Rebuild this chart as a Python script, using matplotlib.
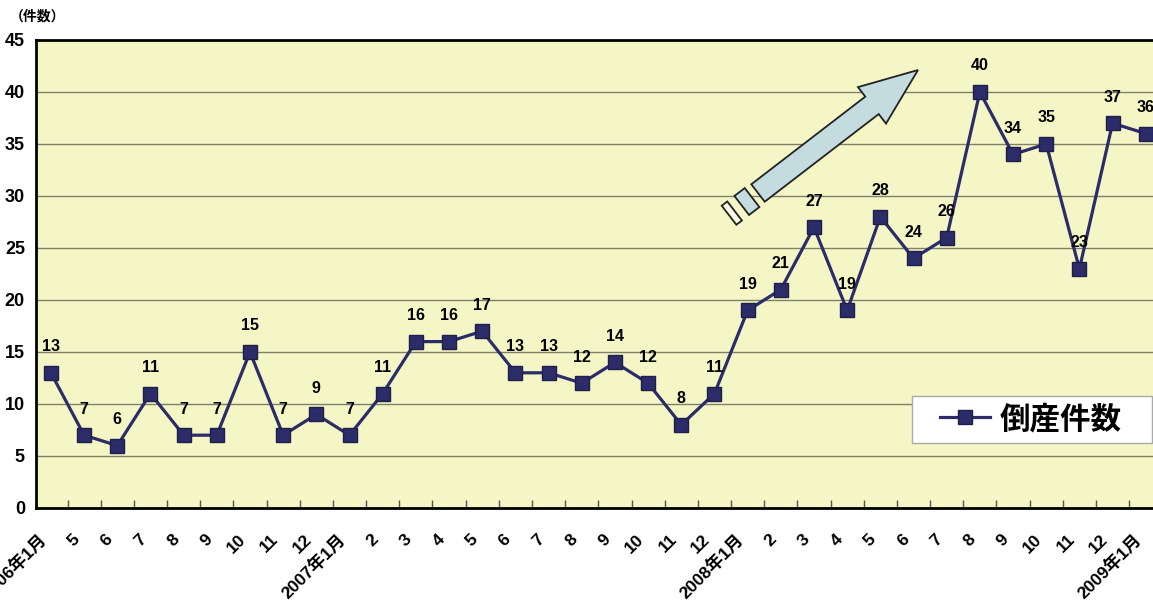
import matplotlib.pyplot as plt
import matplotlib.transforms as mtransforms
from matplotlib.patches import FancyArrow, Polygon, Rectangle
import numpy as np

plt.rcParams['font.family'] = ['Liberation Sans', 'Noto Sans CJK JP']
plt.rcParams['font.weight'] = 'bold'

# monthly counts (first label as printed on the original)
months = ['2006年1月', '5', '6', '7', '8', '9', '10', '11', '12',
          '2007年1月', '2', '3', '4', '5', '6', '7', '8', '9', '10', '11', '12',
          '2008年1月', '2', '3', '4', '5', '6', '7', '8', '9', '10', '11', '12',
          '2009年1月']
counts = [13, 7, 6, 11, 7, 7, 15, 7, 9, 7, 11, 16, 16, 17, 13, 13, 12, 14, 12, 8,
          11, 19, 21, 27, 19, 28, 24, 26, 40, 34, 35, 23, 37, 36]
yticks = [0, 5, 10, 15, 20, 25, 30, 35, 40, 45]

navy = '#2b2c68'

fig = plt.figure(figsize=(11.53, 6.01), dpi=100)
# plot area runs past the right edge of the picture, as in the original
ax = fig.add_axes([36 / 1153, 93 / 601, 1128 / 1153, 468 / 601])
ax.set_facecolor('#f4f6c6')

x = np.arange(len(counts))
line, = ax.plot(x, counts, color=navy, lw=2.3, marker='s', ms=10,
                mfc=navy, mec='#1e1f4a', mew=1, label='倒産件数', zorder=3)

for xi, c in zip(x, counts):
    ax.annotate(str(c), (xi, c), xytext=(0, 26), textcoords='offset pixels',
                ha='center', va='center', fontsize=11.5, fontweight='bold', zorder=4)

ax.set_xlim(-0.45, 33.55)
ax.set_ylim(0, 45)
ax.set_yticks(yticks)
ax.yaxis.grid(True, color='#7f806a', lw=1)
ax.set_axisbelow(True)
ax.tick_params(axis='y', length=0, pad=8, labelsize=13)

ax.set_xticks(x)
ax.set_xticklabels(months, rotation=45, ha='right', va='center',
                   rotation_mode='anchor', fontsize=12.5)
ax.tick_params(axis='x', length=0, pad=21)
shift = mtransforms.ScaledTranslation(-7 / 100, 0, fig.dpi_scale_trans)
for lab in ax.get_xticklabels():
    lab.set_transform(lab.get_transform() + shift)
ax.set_xticks(x[:-1] + 0.5, minor=True)
ax.tick_params(axis='x', which='minor', direction='in', length=6,
               color='#555555', width=1)

for side in ['left', 'bottom', 'top']:
    ax.spines[side].set_linewidth(2)
    ax.spines[side].set_color('black')
ax.spines['right'].set_visible(False)

fig.text(10 / 1153, 1 - 16 / 601, '（件数）', fontsize=10, fontweight='bold',
         va='center', ha='left')

# legend: white box drawn by hand, legend itself without frame
box = Rectangle((912 / 100, (601 - 443) / 100), 240 / 100, 47 / 100,
                transform=fig.dpi_scale_trans, facecolor='white',
                edgecolor='#aaaaaa', lw=1, zorder=6)
fig.patches.append(box)
leg = fig.legend(handles=[line], loc='center left', fontsize=22,
                 bbox_to_anchor=(940 / 1153, 1 - 420 / 601),
                 bbox_transform=fig.transFigure, borderaxespad=0, borderpad=0,
                 frameon=False, handlelength=1.64, handletextpad=0.3)
leg.set_zorder(7)

# rising arrow (pixel positions converted to inches)
def px(xp, yp):
    return xp / 100, (601 - yp) / 100

tx, ty = px(758, 193)
hx, hy = px(918, 70)
arr = FancyArrow(tx, ty, hx - tx, hy - ty, width=0.22, head_width=0.46,
                 head_length=0.58, length_includes_head=True,
                 transform=fig.dpi_scale_trans, facecolor='#c4dbe0',
                 edgecolor='#222222', lw=1.3, zorder=5)
fig.patches.append(arr)

d = np.array([hx - tx, hy - ty])
d = d / np.hypot(*d)
nrm = np.array([-d[1], d[0]])

def block(c, length, wid, fc):
    pts = [c - d * length / 2 - nrm * wid / 2, c + d * length / 2 - nrm * wid / 2,
           c + d * length / 2 + nrm * wid / 2, c - d * length / 2 + nrm * wid / 2]
    return Polygon(pts, closed=True, transform=fig.dpi_scale_trans,
                   facecolor=fc, edgecolor='#222222', lw=1.3, zorder=5)

tail = np.array([tx, ty])
fig.patches.append(block(tail - d * 0.14, 0.13, 0.24, '#c4dbe0'))
fig.patches.append(block(tail - d * 0.33, 0.07, 0.24, '#f6f8e8'))

fig.savefig('out.png', dpi=100)
